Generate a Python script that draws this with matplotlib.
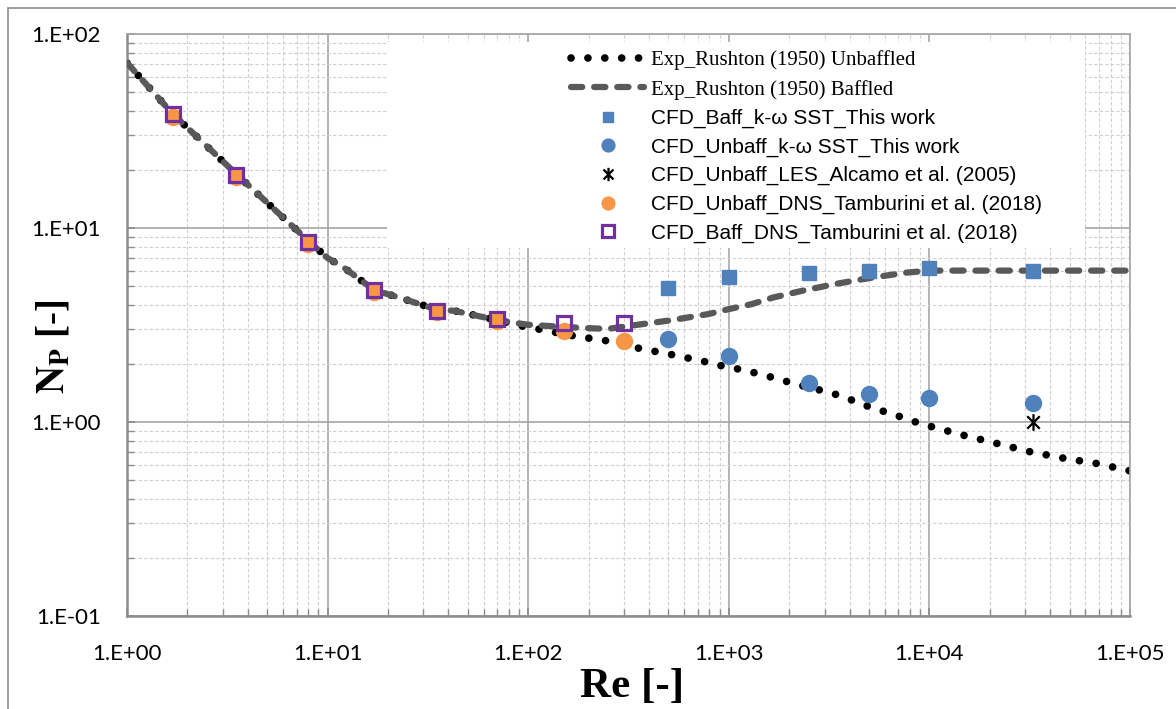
import math

import matplotlib
matplotlib.use("Agg")
import matplotlib.pyplot as plt
from matplotlib.path import Path
from matplotlib.patches import Rectangle
from matplotlib.ticker import LogLocator, FuncFormatter, NullFormatter

plt.rcParams["mathtext.fontset"] = "stix"

re_unbaff = [1, 1.7, 3.5, 8, 10, 12, 17, 24, 35, 43, 70, 92, 113, 168, 247, 362,
             537, 797, 968, 1181, 1434, 1741, 2107, 2560, 3098, 3760, 4535, 5460,
             6630, 8020, 9700, 14600, 21600, 31800, 47000, 69000, 100000]
np_unbaff = [71, 38.5, 19, 8.6, 7.0, 6.27, 4.8, 4.3, 3.8, 3.74, 3.35, 3.13, 3.01,
             2.78, 2.62, 2.39, 2.21, 2.025, 1.923, 1.856, 1.763, 1.673, 1.577, 1.50,
             1.43, 1.346, 1.243, 1.163, 1.096, 1.02, 0.961, 0.857, 0.776, 0.702,
             0.65, 0.61, 0.56]
re_baff = [1, 1.7, 3.5, 8, 10, 12, 17, 24, 35, 43, 70, 100, 190, 250, 350, 520,
           790, 1000, 1300, 1660, 2330, 3380, 5060, 7700, 10000, 100000]
np_baff = [71, 38.5, 19, 8.6, 7.0, 6.27, 4.8, 4.3, 3.8, 3.74, 3.35, 3.17, 3.05,
           3.02, 3.17, 3.35, 3.6, 3.82, 4.05, 4.38, 4.75, 5.14, 5.53, 5.89, 6.03, 6.03]

# CFD results
re_sst = [500, 1000, 2500, 5000, 10000, 33000]
np_baff_sst = [4.89, 5.57, 5.89, 6.03, 6.19, 6.03]
np_unbaff_sst = [2.69, 2.18, 1.59, 1.40, 1.335, 1.25]
re_les = [33000]
np_les = [1.0]
re_dns = [1.7, 3.5, 8, 17, 35, 70, 150, 300]
np_unbaff_dns = [37.5, 18.3, 8.3, 4.7, 3.7, 3.3, 2.93, 2.6]
np_baff_dns = [38.5, 18.7, 8.5, 4.8, 3.75, 3.4, 3.25, 3.25]

labels = [
    "Exp_Rushton (1950) Unbaffled",
    "Exp_Rushton (1950) Baffled",
    "CFD_Baff_k-\u03c9 SST_This work",
    "CFD_Unbaff_k-\u03c9 SST_This work",
    "CFD_Unbaff_LES_Alcamo et al. (2005)",
    "CFD_Unbaff_DNS_Tamburini et al. (2018)",
    "CFD_Baff_DNS_Tamburini et al. (2018)",
]

W, H = 1176, 709
fig = plt.figure(figsize=(W / 100, H / 100), dpi=100)
ax = fig.add_axes([127 / W, 1 - 616 / H, (1130 - 127) / W, (616 - 34) / H])

# Excel-like star: vertical bar plus an X
star = Path([(0, -1), (0, 1), (-0.75, -0.75), (0.75, 0.75), (-0.75, 0.75), (0.75, -0.75)],
            [Path.MOVETO, Path.LINETO, Path.MOVETO, Path.LINETO, Path.MOVETO, Path.LINETO])

ax.plot(re_unbaff, np_unbaff, color="black", lw=5.5, ls=(0, (0.01, 2.2)),
        dash_capstyle="round", label=labels[0], zorder=2)
ax.plot(re_baff, np_baff, color="#595959", lw=4.5, ls=(0, (1.8, 1.9)),
        dash_capstyle="round", label=labels[1], zorder=3)
ax.plot(re_sst, np_baff_sst, ls="none", marker="s", ms=9.5, color="#4f81bd",
        mec="#4f81bd", label=labels[2], zorder=4)
ax.plot(re_sst, np_unbaff_sst, ls="none", marker="o", ms=11.5, color="#4f81bd",
        mec="#4f81bd", label=labels[3], zorder=4)
ax.plot(re_les, np_les, ls="none", marker=star, ms=12, mew=1.6, color="black",
        label=labels[4], zorder=4)
ax.plot(re_dns, np_unbaff_dns, ls="none", marker="o", ms=11.5, color="#f79646",
        mec="#f79646", label=labels[5], zorder=5)
ax.plot(re_dns, np_baff_dns, ls="none", marker="s", ms=10, mfc="none", mew=2.3,
        mec="#7030a0", label=labels[6], zorder=6)

ax.set_xscale("log")
ax.set_yscale("log")
ax.set_xlim(1, 1e5)
ax.set_ylim(0.1, 100)

fmt = FuncFormatter(lambda v, p: "1.E{:+03d}".format(int(round(math.log10(v)))))
ax.xaxis.set_major_locator(LogLocator(base=10, numticks=10))
ax.yaxis.set_major_locator(LogLocator(base=10, numticks=10))
ax.xaxis.set_minor_locator(LogLocator(base=10, subs=range(2, 10), numticks=20))
ax.yaxis.set_minor_locator(LogLocator(base=10, subs=range(2, 10), numticks=20))
ax.xaxis.set_major_formatter(fmt)
ax.yaxis.set_major_formatter(fmt)
ax.xaxis.set_minor_formatter(NullFormatter())
ax.yaxis.set_minor_formatter(NullFormatter())

ax.grid(True, which="major", color="#a6a6a6", lw=1.2, ls="-")
ax.grid(True, which="minor", color="#cfcfcf", lw=0.8, ls=(0, (3, 2)))
ax.set_axisbelow(True)

ax.tick_params(which="both", direction="in", color="#8c8c8c", labelsize=16)
ax.tick_params(which="major", length=6, width=1.2)
ax.tick_params(which="minor", length=5, width=1.0)
ax.tick_params(axis="y", which="major", pad=19)
ax.tick_params(axis="x", which="major", pad=20)
for t in ax.get_xticklabels() + ax.get_yticklabels():
    t.set_fontfamily("Lato")

for side in ["left", "bottom"]:
    ax.spines[side].set_color("#8c8c8c")
    ax.spines[side].set_linewidth(1.8)
for side in ["top", "right"]:
    ax.spines[side].set_color("#a6a6a6")
    ax.spines[side].set_linewidth(1.2)

# white area behind the legend
ax.add_patch(Rectangle((387 / W, 1 - 248 / H), (1085 - 387) / W, (248 - 42) / H,
                       transform=fig.transFigure, fc="white", ec="none", zorder=1))

leg = ax.legend(loc="upper left", bbox_to_anchor=(561 / W, 1 - 40 / H),
                bbox_transform=fig.transFigure, frameon=False, borderpad=0,
                fontsize=15, handlelength=3.5, handletextpad=0.3,
                labelspacing=0.45, numpoints=1, markerscale=0.8)
for i, t in enumerate(leg.get_texts()):
    t.set_fontfamily("Liberation Serif" if i < 2 else "Liberation Sans")

fig.text(632 / W, 1 - 697 / H, "Re [-]", ha="center", va="baseline",
         fontsize=31, fontweight="bold", family="Liberation Serif")
fig.text(55 / W, 1 - 347 / H, r"$\mathbf{N_P}$ [-]", ha="center", va="center",
         rotation=90, fontsize=28, fontweight="bold", family="Liberation Serif")

fig.add_artist(Rectangle((8 / W, -0.1), 1.2, 1 - 8 / H + 0.1, transform=fig.transFigure,
                         fill=False, ec="#8c8c8c", lw=1.2))

fig.savefig("out.png", dpi=100)
